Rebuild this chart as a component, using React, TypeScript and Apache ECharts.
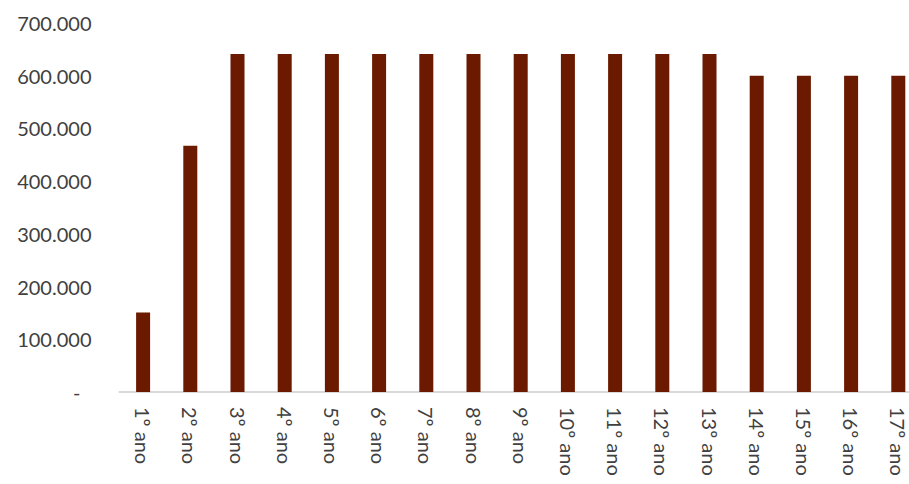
import React, { useEffect, useRef } from "react";
import * as echarts from "echarts";

const categories = [
  "1º ano", "2º ano", "3º ano", "4º ano", "5º ano", "6º ano", "7º ano", "8º ano", "9º ano",
  "10º ano", "11º ano", "12º ano", "13º ano", "14º ano", "15º ano", "16º ano", "17º ano",
];
const values = [
  151000, 467000, 641000, 641000, 641000, 641000, 641000, 641000, 641000,
  641000, 641000, 641000, 641000, 600000, 600000, 600000, 600000,
];
const yMin = 0;
const yMax = 700000;
const yInterval = 100000;

function fmt(v: number): string {
  if (v === 0) return "{dash|-}";
  return String(v).replace(/\B(?=(\d{3})+(?!\d))/g, ".");
}

export default function App() {
  const ref = useRef<HTMLDivElement>(null);
  useEffect(() => {
    if (!ref.current) return;
    const chart = echarts.init(ref.current, null, { renderer: "svg" });
    chart.setOption({
      animation: false,
      backgroundColor: "#ffffff",
      grid: {
        left: 119.5,
        top: 23,
        bottom: 92,
        width: 802.4,
        containLabel: false,
        outerBoundsMode: "none",
      },
      xAxis: {
        type: "category",
        data: categories,
        axisLine: { show: true, lineStyle: { color: "#d9d9d9", width: 2 } },
        axisTick: { show: false },
        axisLabel: {
          rotate: -90,
          margin: 15,
          interval: 0,
          color: "#404040",
          fontFamily: "Lato",
          fontSize: 20,
          lineHeight: 18,
        },
      },
      yAxis: {
        type: "value",
        min: yMin,
        max: yMax,
        interval: yInterval,
        axisLine: { show: false },
        axisTick: { show: false },
        splitLine: { show: false },
        axisLabel: {
          margin: 28,
          color: "#404040",
          fontFamily: "Lato",
          fontSize: 20,
          formatter: (v: number) => fmt(v),
          rich: { dash: { padding: [0, 11, 0, 0], color: "#404040", fontFamily: "Lato", fontSize: 20 } },
        },
      },
      series: [
        {
          type: "bar",
          data: values,
          barWidth: 14,
          itemStyle: { color: "#6b1a00" },
        },
      ],
    });
    return () => chart.dispose();
  }, []);
  return (
    <div
      ref={ref}
      style={{ position: "fixed", left: 0, top: 0, width: 909, height: 484, background: "#fff" }}
    />
  );
}
